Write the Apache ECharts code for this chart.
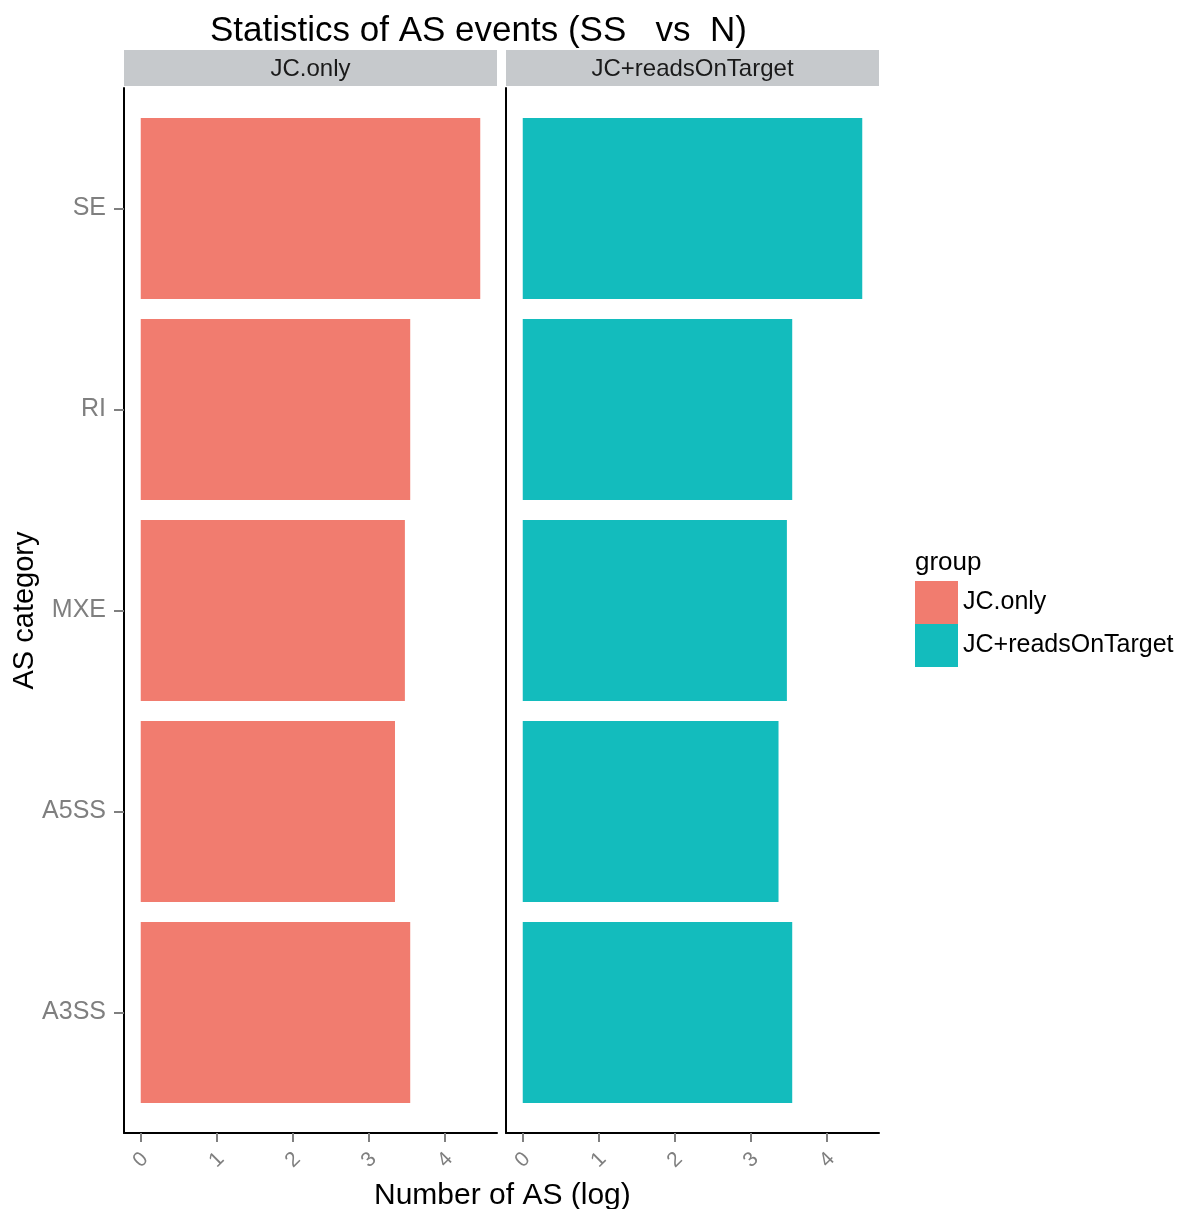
<!DOCTYPE html>
<html>
<head>
<meta charset="utf-8">
<script src="https://cdn.jsdelivr.net/npm/echarts@6/dist/echarts.min.js"></script>
<style>
html,body{margin:0;padding:0;background:#fff;}
#chart{width:1178px;height:1209px;}
</style>
</head>
<body>
<div id="chart"></div>
<script>
// ---- data ----
var categories = ['SE', 'RI', 'MXE', 'A5SS', 'A3SS'];
var panels = ['JC.only', 'JC+readsOnTarget'];
var jcOnly = [4.46, 3.54, 3.47, 3.34, 3.54];
var jcReads = [4.46, 3.54, 3.47, 3.36, 3.54];
var xTicks = [0, 1, 2, 3, 4];
var xMin = -0.22, xMax = 4.68;

var FONT = 'Liberation Sans, Arial, sans-serif';
var RED = '#F17C6F', TEAL = '#13BCBD', GRAY = '#7f7f7f';

var chart = echarts.init(document.getElementById('chart'));

var panelLeft = [124, 506], panelW = 373;
var outerTop = 88, outerH = 1045;
var barTop = 108, barH = 1005;

var grids = [], xAxes = [], yAxes = [];
panelLeft.forEach(function (l, i) {
  grids.push({ left: l, top: outerTop, width: panelW, height: outerH, containLabel: false, outerBoundsMode: 'none' });
  xAxes.push({
    type: 'value', gridIndex: i, min: xMin, max: xMax,
    axisLine: { show: true, onZero: false, lineStyle: { color: '#000', width: 2 } },
    axisTick: { show: true, customValues: xTicks, length: 9, lineStyle: { color: GRAY, width: 2 } },
    axisLabel: { show: true, customValues: xTicks, rotate: 45, align: 'center', verticalAlign: 'middle', margin: 27, color: GRAY, fontSize: 21, fontFamily: FONT, formatter: function (v) { return String(v); } },
    splitLine: { show: false }
  });
  yAxes.push({
    type: 'value', gridIndex: i, min: 0, max: 1,
    axisLine: { show: true, onZero: false, lineStyle: { color: '#000', width: 2 } },
    axisTick: { show: false }, axisLabel: { show: false }, splitLine: { show: false },
    name: i === 0 ? 'AS category' : '', nameLocation: 'middle', nameGap: 85, nameRotate: 90,
    nameTextStyle: { color: '#000', fontSize: 29, fontFamily: FONT }
  });
});
panelLeft.forEach(function (l, i) {
  grids.push({ left: l, top: barTop, width: panelW, height: barH, containLabel: false, outerBoundsMode: 'none' });
  xAxes.push({ type: 'value', gridIndex: i + 2, min: xMin, max: xMax, show: false });
  yAxes.push({
    type: 'category', gridIndex: i + 2, data: categories, inverse: true,
    axisLine: { show: false, onZero: false },
    axisTick: { show: i === 0, alignWithLabel: true, length: 10, lineStyle: { color: GRAY, width: 2 } },
    axisLabel: { show: i === 0, color: GRAY, fontSize: 25, fontFamily: FONT, margin: 18 },
    splitLine: { show: false }
  });
});

var graphics = [];
panelLeft.forEach(function (l, i) {
  graphics.push({ type: 'rect', left: l, top: 50, shape: { width: panelW, height: 36 }, style: { fill: '#C6C9CC' } });
  graphics.push({ type: 'text', x: l + panelW / 2, y: 69, style: { text: panels[i], align: 'center', verticalAlign: 'middle', fill: '#1a1a1a', font: '24px ' + FONT } });
});

var option = {
  backgroundColor: '#fff',
  animation: false,
  title: [
    { text: 'Statistics of AS events (SS   vs  N)', left: 205, top: 9, textStyle: { color: '#000', fontSize: 35, fontWeight: 'normal', fontFamily: FONT } },
    { text: 'Number of AS (log)', left: 369, top: 1176, textStyle: { color: '#000', fontSize: 30, fontWeight: 'normal', fontFamily: FONT } },
    { text: 'group', left: 910, top: 545, textStyle: { color: '#000', fontSize: 26, fontWeight: 'normal', fontFamily: FONT } }
  ],
  legend: {
    data: panels, orient: 'vertical', left: 915, top: 581, itemWidth: 43, itemHeight: 43, itemGap: 0,
    icon: 'rect', textStyle: { color: '#000', fontSize: 25, fontFamily: FONT }, padding: 0
  },
  grid: grids, xAxis: xAxes, yAxis: yAxes,
  graphic: graphics,
  series: [
    { name: panels[0], type: 'bar', xAxisIndex: 2, yAxisIndex: 2, data: jcOnly, barWidth: '90%', itemStyle: { color: RED } },
    { name: panels[1], type: 'bar', xAxisIndex: 3, yAxisIndex: 3, data: jcReads, barWidth: '90%', itemStyle: { color: TEAL } }
  ]
};
chart.setOption(option);
</script>
</body>
</html>
